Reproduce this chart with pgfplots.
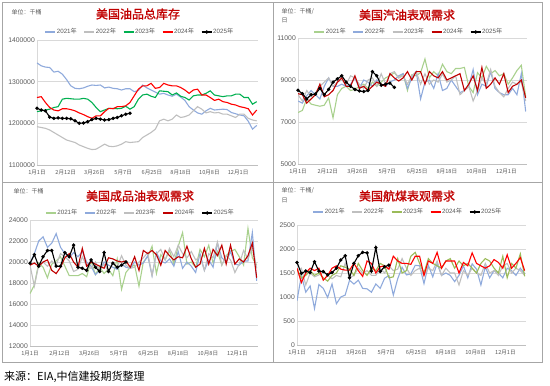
\documentclass[border=0pt]{standalone}
\usepackage{pgfplots}
\pgfplotsset{compat=1.18}
\usepackage{pgfplotstable}
\usepackage{fontspec}
\setmainfont{Liberation Sans}
\newfontfamily\cjk{Noto Sans CJK SC}
\newfontfamily\cjkt[FakeBold=1.2]{Noto Sans CJK SC}
\definecolor{tickgray}{HTML}{595959}
\definecolor{axgray}{HTML}{BFBFBF}
\definecolor{gridgray}{HTML}{D9D9D9}
\definecolor{framegray}{HTML}{A6A6A6}
\definecolor{titlered}{HTML}{C00000}
\definecolor{cblue}{HTML}{8FAADC}
\definecolor{cgray}{HTML}{BFBFBF}
\definecolor{cgreen}{HTML}{00B050}
\definecolor{cred}{HTML}{FF0000}
\definecolor{clgreen}{HTML}{A9D18E}
\definecolor{cdred}{HTML}{C00000}
\definecolor{cgreen2}{HTML}{9BBB59}

\pgfplotstableread{
w a b c d e
0 1345000 1192000 1228000 1262000 1236000
1 1338000 1190000 1230000 1264000 1232000
2 1335000 1188000 1232000 1250000 1230000
3 1334000 1184000 1234000 1238000 1215000
4 1323000 1178000 1238000 1232000 1212000
5 1325000 1172000 1240000 1230000 1213000
6 1318000 1166000 1258000 1235000 1212000
7 1305000 1160000 1260000 1235000 1212000
8 1290000 1157000 1259000 1233000 1211000
9 1284000 1154000 1258000 1230000 1206000
10 1283000 1148000 1258000 1225000 1200000
11 1285000 1144000 1260000 1221000 1201000
12 1289000 1140000 1258000 1216000 1204000
13 1292000 1137000 1250000 1212000 1209000
14 1291000 1138000 1238000 1218000 1212000
15 1292000 1144000 1228000 1218000 1210000
16 1285000 1150000 1232000 1228000 1208000
17 1287000 1145000 1236000 1236000 1209000
18 1284000 1144000 1236000 1235000 1212000
19 1283000 1146000 1235000 1240000 1214000
20 1280000 1150000 1236000 1240000 1218000
21 1283000 1156000 1241000 1242000 1222000
22 1283000 1154000 1234000 1250000 1224000
23 1276000 1155000 1240000 1266000 nan
24 1279000 1156000 1258000 1282000 nan
25 1292000 1166000 1268000 1290000 nan
26 1285000 1172000 1270000 1290000 nan
27 1280000 1178000 1265000 1296000 nan
28 1275000 1186000 1262000 1284000 nan
29 1270000 1206000 1278000 1286000 nan
30 1272000 1210000 1277000 1296000 nan
31 1268000 1206000 1276000 1292000 nan
32 1265000 1210000 1268000 1290000 nan
33 1270000 1220000 1273000 1290000 nan
34 1263000 1214000 1265000 1286000 nan
35 1255000 1216000 1262000 1280000 nan
36 1240000 1220000 1256000 1272000 nan
37 1232000 1230000 1266000 1280000 nan
38 1225000 1240000 1268000 1282000 nan
39 1222000 1234000 1268000 1268000 nan
40 1230000 1225000 1272000 1268000 nan
41 1236000 1228000 1278000 1262000 nan
42 1232000 1225000 1268000 1255000 nan
43 1233000 1226000 1266000 1258000 nan
44 1234000 1222000 1264000 1252000 nan
45 1233000 1222000 1266000 1250000 nan
46 1226000 1218000 1266000 1246000 nan
47 1223000 1214000 1270000 1244000 nan
48 1220000 1222000 1270000 1240000 nan
49 1218000 1222000 1262000 1238000 nan
50 1205000 1212000 1262000 1235000 nan
51 1186000 1208000 1246000 1220000 nan
52 1195000 1206000 1252000 1232000 nan
}\stocks

\pgfplotstableread{
w a b c d e
0 7450 8000 8300 8350 8510
1 7550 7900 8000 8300 8350
2 8100 8250 8500 7900 8100
3 7850 8500 8200 8100 8300
4 7800 8300 8400 8300 8330
5 7750 8100 8700 8800 8600
6 7800 8700 8900 8200 8300
7 8150 9100 9100 8300 8550
8 7200 8700 8700 8500 8900
9 8300 8700 8900 8900 9050
10 8600 8800 9000 9100 9200
11 8700 8700 8800 8700 8900
12 8500 8800 9200 8700 8700
13 8550 9100 9100 9200 8550
14 8700 8600 8800 8600 8480
15 8800 9000 8600 8700 8450
16 8600 8900 9000 8500 8500
17 8900 8700 9100 8700 9400
18 8700 9000 8700 8900 9200
19 8900 8800 9300 8800 8750
20 9100 8700 8800 8700 8800
21 9200 8900 9300 9300 8850
22 9350 9000 9400 9100 8650
23 9100 9200 9100 8950 nan
24 9300 9300 9200 9100 nan
25 8500 8600 8800 9400 nan
26 9250 9100 9200 9000 nan
27 9200 9400 9400 9400 nan
28 9350 8100 8800 9400 nan
29 10000 8900 9300 8800 nan
30 9100 9000 8800 9400 nan
31 9400 8600 9000 9200 nan
32 9200 9300 8900 9100 nan
33 9750 8500 9300 9400 nan
34 9400 8600 8900 9000 nan
35 9300 9000 9000 9100 nan
36 9550 8700 9200 9200 nan
37 9550 8400 8300 9300 nan
38 9600 8500 8500 8500 nan
39 8700 8700 8700 8800 nan
40 8400 9500 8000 9200 nan
41 9350 8300 8500 8500 nan
42 9100 8800 9100 9600 nan
43 9650 8700 8800 8600 nan
44 9300 9400 9500 8800 nan
45 9450 8600 8700 9100 nan
46 9200 8400 8400 8800 nan
47 9300 8300 8200 9300 nan
48 8800 8300 8600 8400 nan
49 9100 8600 8900 8700 nan
50 9450 8300 8800 8800 nan
51 9700 9300 8900 9000 nan
52 8200 7500 8000 8150 nan
}\gasoline

\pgfplotstableread{
w a b c d e
0 17000 19900 19700 19700 19870
1 17800 20800 17700 19900 20700
2 19900 22000 19700 19600 19600
3 19500 22400 20000 20000 20500
4 18500 21400 19600 20200 21100
5 19800 21800 20100 19200 21100
6 20100 22700 19700 18900 19600
7 20500 21400 20800 19500 19600
8 19600 20800 20500 20400 20900
9 18700 20400 20100 20800 20500
10 18700 20900 19100 20000 21600
11 18700 20500 19300 19500 19500
12 18900 21000 20500 21300 19400
13 18600 20000 19600 19600 19200
14 20100 19600 19400 20000 20200
15 18800 18800 20000 19800 19500
16 19500 19200 19200 19600 19100
17 18900 20000 19800 19400 20900
18 19300 19700 19100 20400 19100
19 18700 19500 19900 20300 19900
20 20300 19300 19500 20100 19500
21 17400 19800 20600 20000 19700
22 19000 19500 19700 20100 20000
23 19500 19400 19400 19500 nan
24 19700 20000 19500 20500 nan
25 17700 19700 20000 19200 nan
26 20000 19900 20400 21100 nan
27 20500 20600 20900 20800 nan
28 21500 18700 18700 21100 nan
29 18900 20900 20800 20700 nan
30 20700 20100 21200 19700 nan
31 20200 19900 20200 21100 nan
32 21100 20300 21300 20600 nan
33 19800 19600 20500 20200 nan
34 21500 21000 21600 20500 nan
35 22800 19400 20800 20400 nan
36 19800 20000 20400 21500 nan
37 20000 19600 21000 20300 nan
38 19500 19000 20200 19500 nan
39 21200 20800 20500 19800 nan
40 20500 19200 19200 21300 nan
41 21600 20200 20800 19800 nan
42 19900 19500 20400 21200 nan
43 21000 21800 21900 20600 nan
44 19700 20400 19700 21600 nan
45 20600 20000 20600 19800 nan
46 21000 21000 20200 21600 nan
47 21200 19800 19000 19800 nan
48 20500 19700 19800 20300 nan
49 19700 20100 21100 20000 nan
50 23200 20100 20300 20600 nan
51 20400 22800 21400 21800 nan
52 19700 18200 19400 18500 nan
}\products

\pgfplotstableread{
w a b c d e
0 920 1550 1580 1600 1720
1 1450 1600 1400 1300 1490
2 1100 1250 1450 1500 1540
3 1230 1500 1550 1600 1510
4 760 1420 1450 1550 1735
5 1260 1460 1500 1600 1540
6 1180 1530 1400 1350 1530
7 990 1450 1330 1450 1460
8 1270 1380 1450 1600 1510
9 860 1450 1500 1650 1600
10 1000 1420 1650 1580 1770
11 1040 1700 1620 1560 1860
12 1350 1400 1580 1560 1400
13 1270 1450 1450 1700 1700
14 1350 1600 1700 1550 1860
15 1180 1500 1550 1430 1930
16 1170 1550 1450 1750 1920
17 1100 1450 1600 1700 1540
18 1270 1450 1550 1500 2030
19 1180 1600 1700 1630 1530
20 1390 1500 1650 1650 1630
21 1450 1650 1400 1580 1665
22 1040 1550 1420 1850 nan
23 1380 1580 1800 1750 nan
24 1620 1800 1500 1700 nan
25 1460 1600 1550 1700 nan
26 1480 1450 1850 1680 nan
27 1660 1550 1930 1850 nan
28 1650 1600 1700 1850 nan
29 1280 1450 1500 1450 nan
30 1660 1600 1800 1750 nan
31 1420 1550 1700 1700 nan
32 1700 1750 1650 1930 nan
33 1450 1450 1600 1600 nan
34 1500 1600 1750 1750 nan
35 1450 1500 1800 1750 nan
36 1320 1500 1600 1750 nan
37 1450 1250 1750 1500 nan
38 1650 1550 1650 1720 nan
39 1400 1450 1700 1650 nan
40 1690 1600 1600 1920 nan
41 1580 1500 1500 1700 nan
42 1250 1450 1700 1650 nan
43 1630 1700 1800 1600 nan
44 1400 1500 1750 1650 nan
45 1550 1550 1600 1780 nan
46 1500 1450 1500 1720 nan
47 1400 1650 1850 1600 nan
48 1600 1700 1400 1880 nan
49 1550 1500 1700 1600 nan
50 1450 1600 1600 1700 nan
51 1600 1550 1900 1820 nan
52 1480 1450 1430 1550 nan
}\jet

\pgfplotsset{
  panel/.style={
    scale only axis, anchor=north west,
    xmin=0, xmax=52.3,
    xtick={0,6.8,13.6,20.4,27.2,34,40.8,47.6},
    xticklabels={1月1日,2月12日,3月26日,5月7日,6月25日,8月18日,10月8日,12月1日},
    xticklabel style={font=\cjk\fontsize{5.6}{6}\selectfont, text=tickgray, inner sep=1pt, yshift=-4pt},
    yticklabel style={font=\fontsize{6.8}{7}\selectfont, text=tickgray, inner sep=2pt},
    /pgf/number format/assume math mode=true,
    /pgf/number format/fixed,
    /pgf/number format/1000 sep={},
    scaled y ticks=false,
    major tick length=0pt,
    axis x line=bottom, axis y line=left,
    x axis line style={-, draw=axgray, line width=0.8pt},
    y axis line style={-, draw=gridgray, line width=0.5pt},
    ymajorgrids, grid style={draw=gridgray, line width=0.5pt},
    every axis plot/.append style={line width=1.1pt, mark=none},
    legend columns=5,
    legend style={draw=none, fill=none, font=\fontsize{6.2}{7}\selectfont, text=tickgray,
      inner sep=0pt, nodes={inner sep=1pt},
      /tikz/every even column/.append style={column sep=6pt}},
    legend image code/.code={\draw[mark repeat=2,mark phase=2,#1] plot coordinates {(0pt,0pt) (5pt,0pt) (10pt,0pt)};},
  },
  y25/.style={black, line width=1.1pt, mark=*, mark size=1.1pt, mark options={solid}},
}

\begin{document}
\begin{tikzpicture}
\useasboundingbox (0pt,0pt) rectangle (550pt,-386pt);
\draw[framegray, line width=0.8pt] (2pt,-2pt) rectangle (542pt,-362pt);
\draw[framegray, line width=0.8pt] (273pt,-2pt) -- (273pt,-362pt);
\draw[framegray, line width=0.8pt] (2pt,-182pt) -- (542pt,-182pt);

% ---------- top left ----------
\begin{axis}[panel, at={(37pt,-40pt)}, width=221pt, height=125pt,
  ymin=1100000, ymax=1400000, ytick={1100000,1200000,1300000,1400000},
  legend style={at={(0.5,1)}, anchor=center, xshift=-8pt, yshift=8pt}]
\addplot[cblue] table[x=w,y=a]{\stocks}; \addlegendentry{2021{\cjk 年}}
\addplot[cgray] table[x=w,y=b]{\stocks}; \addlegendentry{2022{\cjk 年}}
\addplot[cgreen] table[x=w,y=c]{\stocks}; \addlegendentry{2023{\cjk 年}}
\addplot[cred] table[x=w,y=d]{\stocks}; \addlegendentry{2024{\cjk 年}}
\addplot[y25] table[x=w,y=e]{\stocks}; \addlegendentry{2025{\cjk 年}}
\end{axis}
\node[font=\cjkt\fontsize{12}{12}\selectfont, text=titlered] at (138pt,-14pt) {美国油品总库存};
\node[font=\cjk\fontsize{6}{6}\selectfont, text=tickgray, anchor=west] at (8pt,-12pt) {单位：千桶};

% ---------- top right ----------
\begin{axis}[panel, at={(298pt,-38pt)}, width=229pt, height=126pt,
  ymin=5000, ymax=11000, ytick={5000,7000,9000,11000},
  legend style={at={(0.5,1)}, anchor=center, xshift=-4pt, yshift=6pt}]
\addplot[clgreen] table[x=w,y=a]{\gasoline}; \addlegendentry{2021{\cjk 年}}
\addplot[cblue] table[x=w,y=b]{\gasoline}; \addlegendentry{2022{\cjk 年}}
\addplot[cgray] table[x=w,y=c]{\gasoline}; \addlegendentry{2023{\cjk 年}}
\addplot[cdred] table[x=w,y=d]{\gasoline}; \addlegendentry{2024{\cjk 年}}
\addplot[y25] table[x=w,y=e]{\gasoline}; \addlegendentry{2025{\cjk 年}}
\end{axis}
\node[font=\cjkt\fontsize{12}{12}\selectfont, text=titlered] at (407pt,-15pt) {美国汽油表观需求};
\node[font=\cjk\fontsize{6}{6}\selectfont, text=tickgray, anchor=west] at (278pt,-11pt) {单位：千桶/};
\node[font=\cjk\fontsize{6}{6}\selectfont, text=tickgray, anchor=west] at (278pt,-20pt) {日};

% ---------- bottom left ----------
\begin{axis}[panel, at={(30pt,-220pt)}, width=228pt, height=126pt,
  ymin=12000, ymax=24000, ytick={12000,14000,16000,18000,20000,22000,24000},
  legend style={at={(0.5,1)}, anchor=center, xshift=-4pt, yshift=7pt}]
\addplot[clgreen] table[x=w,y=a]{\products}; \addlegendentry{2021{\cjk 年}}
\addplot[cblue] table[x=w,y=b]{\products}; \addlegendentry{2022{\cjk 年}}
\addplot[cgray] table[x=w,y=c]{\products}; \addlegendentry{2023{\cjk 年}}
\addplot[cdred] table[x=w,y=d]{\products}; \addlegendentry{2024{\cjk 年}}
\addplot[y25] table[x=w,y=e]{\products}; \addlegendentry{2025{\cjk 年}}
\end{axis}
\node[font=\cjkt\fontsize{12}{12}\selectfont, text=titlered] at (140pt,-196pt) {美国成品油表观需求};
\node[font=\cjk\fontsize{6}{6}\selectfont, text=tickgray, anchor=west] at (10pt,-191pt) {单位：千桶};

% ---------- bottom right ----------
\begin{axis}[panel, at={(297pt,-225pt)}, width=229pt, height=120pt,
  ymin=0, ymax=2500, ytick={0,500,1000,1500,2000,2500},
  legend style={at={(0.5,1)}, anchor=center, xshift=-4pt, yshift=13pt}]
\addplot[cblue] table[x=w,y=a]{\jet}; \addlegendentry{2021{\cjk 年}}
\addplot[cgray] table[x=w,y=b]{\jet}; \addlegendentry{2022{\cjk 年}}
\addplot[cgreen2] table[x=w,y=c]{\jet}; \addlegendentry{2023{\cjk 年}}
\addplot[cred] table[x=w,y=d]{\jet}; \addlegendentry{2024{\cjk 年}}
\addplot[y25] table[x=w,y=e]{\jet}; \addlegendentry{2025{\cjk 年}}
\end{axis}
\node[font=\cjkt\fontsize{12}{12}\selectfont, text=titlered] at (407pt,-196pt) {美国航煤表观需求};
\node[font=\cjk\fontsize{6}{6}\selectfont, text=tickgray, anchor=west] at (278pt,-190pt) {单位：千桶/};
\node[font=\cjk\fontsize{6}{6}\selectfont, text=tickgray, anchor=west] at (278pt,-200pt) {日};

\node[font=\cjk\fontsize{11}{12}\selectfont, anchor=west, inner sep=0pt] at (4pt,-377pt) {来源：EIA,中信建投期货整理};
\end{tikzpicture}
\end{document}
